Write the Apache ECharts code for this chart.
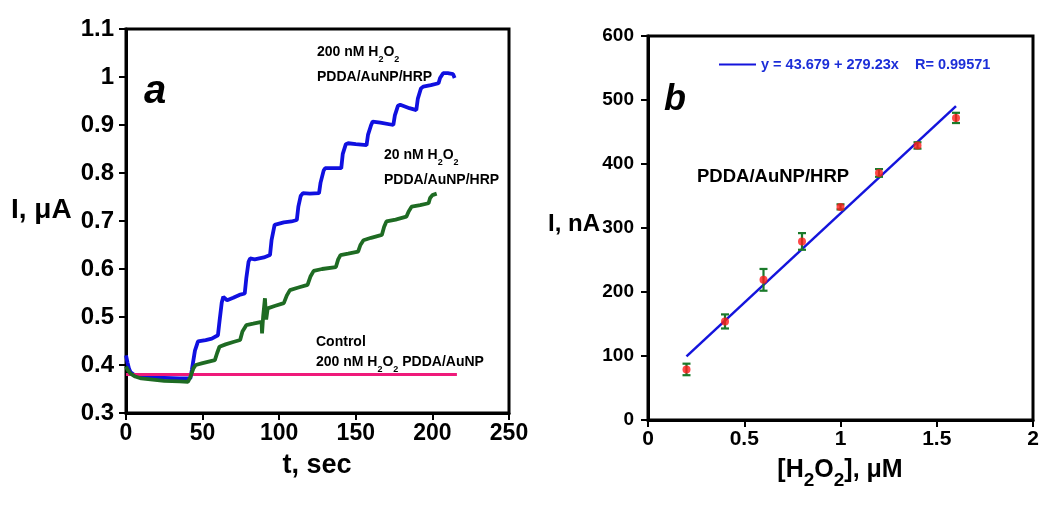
<!DOCTYPE html>
<html><head><meta charset="utf-8">
<script src="https://cdn.jsdelivr.net/npm/echarts@6/dist/echarts.min.js"></script>
<style>html,body{margin:0;padding:0;background:#fff}#c{width:1050px;height:507px}</style>
</head><body><div id="c"></div>
<script>
// ---------- Panel a : amperometric responses (t in s, I in µA) ----------
var blueCurve = [[0,0.42],[1,0.405],[2,0.392],[3,0.385],[5,0.38],[8,0.377],[15,0.374],[25,0.373],[35,0.372],[42,0.372],
 [43,0.39],[45,0.43],[47,0.449],[52,0.452],[56,0.455],[60,0.462],
 [61,0.49],[62.5,0.53],[63.5,0.542],[66,0.535],[70,0.54],[74,0.546],[77.5,0.549],
 [78.5,0.58],[80,0.615],[81,0.622],[84,0.62],[90,0.624],[94,0.629],
 [95,0.66],[97,0.692],[98,0.695],[103,0.697],[108,0.699],[111.5,0.702],
 [112.5,0.73],[114,0.752],[115.5,0.758],[120,0.757],[126,0.758],
 [127,0.78],[129,0.805],[130,0.81],[135,0.81],[140.5,0.81],
 [141.5,0.84],[143.5,0.86],[145,0.862],[150,0.86],[157,0.858],
 [158,0.88],[160,0.9],[161,0.907],[166,0.905],[174.5,0.9],
 [175.5,0.92],[177.5,0.94],[179,0.942],[185,0.935],[189.5,0.931],
 [190.5,0.955],[192.5,0.976],[194,0.98],[199,0.983],[204,0.987],
 [205,0.998],[207,1.008],[210,1.008],[213.5,1.006],[214.5,0.998]];
var greenCurve = [[0,0.397],[1,0.39],[3,0.382],[6,0.376],[10,0.372],[16,0.37],[25,0.367],[35,0.366],[40.5,0.365],
 [42,0.375],[44,0.393],[45.5,0.4],[50,0.404],[54,0.407],[58,0.41],
 [59.5,0.425],[61,0.438],[65,0.443],[70,0.448],[74.5,0.452],
 [76,0.47],[78.5,0.483],[83,0.486],[88.5,0.49],[88.8,0.466],[89.5,0.5],[90.7,0.539],[91.5,0.495],[92.5,0.518],[97,0.523],[103,0.529],
 [105,0.545],[107,0.556],[112,0.561],[118.5,0.567],
 [120.5,0.585],[122.5,0.596],[128,0.6],[137,0.604],
 [138.5,0.62],[140,0.629],[145,0.632],[151.5,0.636],
 [153,0.65],[155,0.66],[160,0.665],[167,0.671],
 [168.5,0.688],[170,0.699],[176,0.703],[183,0.709],
 [184.5,0.72],[186.5,0.73],[192,0.733],[197.5,0.737],
 [198.5,0.748],[200,0.754],[202.8,0.757]];
var controlCurve = [[0,0.38],[216,0.38]];

// ---------- Panel b : calibration ----------
var concentration = [0.2,0.4,0.6,0.8,1.0,1.2,1.4,1.6];   // µM
var currentNA     = [79,154,219,279,333,386,429,472];    // nA
var errorNA       = [9,11,17,13,4,6,5,8];                // nA
var fitLine       = [[0.2,99.5],[1.6,490.4]];
var fitLabel      = 'y = 43.679 + 279.23x    R= 0.99571';

var FONT = "'Liberation Sans', Arial, sans-serif";
var pointData = concentration.map(function(x,i){return [x,currentNA[i]];});
var errData = concentration.map(function(x,i){return [x,currentNA[i],errorNA[i]];});

function axisCommon(fs, margin){
  return {
    axisLine:{show:true,onZero:false,lineStyle:{color:'#000',width:3}},
    axisTick:{show:true,inside:false,length:7,lineStyle:{color:'#000',width:2}},
    splitLine:{show:false},
    axisLabel:{color:'#000',fontFamily:FONT,fontWeight:'bold',fontSize:fs,margin:margin}
  };
}
function merge(a,b){for(var k in b)a[k]=b[k];return a;}
var subRich = {n:{fontSize:14,fontWeight:'bold',fontFamily:FONT,lineHeight:24,fill:'#000'},
               s:{fontSize:9,fontWeight:'bold',fontFamily:FONT,lineHeight:4,verticalAlign:'bottom',fill:'#000'}};

var chart = echarts.init(document.getElementById('c'));
var option = {
  animation:false,
  backgroundColor:'#fff',
  grid:[
    {left:126,top:29,width:383,height:384,show:true,borderColor:'#000',borderWidth:3,backgroundColor:'transparent'},
    {left:648,top:36,width:385,height:384,show:true,borderColor:'#000',borderWidth:3,backgroundColor:'transparent'}
  ],
  xAxis:[
    merge({gridIndex:0,type:'value',min:0,max:250,interval:50},axisCommon(23,9)),
    merge({gridIndex:1,type:'value',min:0,max:2,interval:0.5},axisCommon(21,9))
  ],
  yAxis:[
    merge({gridIndex:0,type:'value',min:0.3,max:1.1,interval:0.1},axisCommon(24,12)),
    merge({gridIndex:1,type:'value',min:0,max:600,interval:100},axisCommon(19,14))
  ],
  legend:{
    data:[{name:fitLabel,icon:'rect'}],
    left:714,top:52,itemWidth:37,itemHeight:2,itemGap:4,
    textStyle:{color:'#1c2ed8',fontFamily:FONT,fontWeight:'bold',fontSize:14.5},
    selectedMode:false
  },
  series:[
    {type:'line',xAxisIndex:0,yAxisIndex:0,data:blueCurve,showSymbol:false,lineStyle:{color:'#1010e0',width:3.8},z:2},
    {type:'line',xAxisIndex:0,yAxisIndex:0,data:controlCurve,showSymbol:false,lineStyle:{color:'#ef1a7a',width:3},z:3},
    {type:'line',xAxisIndex:0,yAxisIndex:0,data:greenCurve,showSymbol:false,lineStyle:{color:'#1e6b23',width:3.8},z:4},
    {name:fitLabel,type:'line',xAxisIndex:1,yAxisIndex:1,data:fitLine,showSymbol:false,color:'#1414dc',lineStyle:{color:'#1414dc',width:2.5},z:2},
    {type:'custom',xAxisIndex:1,yAxisIndex:1,data:errData,z:3,
      renderItem:function(params,api){
        var x=api.value(0), y=api.value(1), e=api.value(2);
        var top=api.coord([x,y+e]), bot=api.coord([x,y-e]);
        var w=4, st={stroke:'#1a7a2a',lineWidth:2.2};
        return {type:'group',children:[
          {type:'line',shape:{x1:top[0],y1:top[1],x2:bot[0],y2:bot[1]},style:st},
          {type:'line',shape:{x1:top[0]-w,y1:top[1],x2:top[0]+w,y2:top[1]},style:st},
          {type:'line',shape:{x1:bot[0]-w,y1:bot[1],x2:bot[0]+w,y2:bot[1]},style:st}
        ]};
      }},
    {type:'scatter',xAxisIndex:1,yAxisIndex:1,data:pointData,symbolSize:8,itemStyle:{color:'#ff1a1a'},z:4}
  ],
  graphic:[
    {type:'text',x:144,y:72,style:{text:'a',font:'italic bold 40px '+FONT,fill:'#000',verticalAlign:'alphabetic'}},
    {type:'text',x:664,y:82,style:{text:'b',font:'italic bold 36px '+FONT,fill:'#000',verticalAlign:'alphabetic'}},
    {type:'text',x:317,y:52,style:{text:'{n|200 nM H}{s|2}{n|O}{s|2}',verticalAlign:'middle',rich:subRich}},
    {type:'text',x:317,y:77,style:{text:'PDDA/AuNP/HRP',font:'bold 14px '+FONT,fill:'#000',verticalAlign:'middle'}},
    {type:'text',x:384,y:155,style:{text:'{n|20 nM H}{s|2}{n|O}{s|2}',verticalAlign:'middle',rich:subRich}},
    {type:'text',x:384,y:180,style:{text:'PDDA/AuNP/HRP',font:'bold 14px '+FONT,fill:'#000',verticalAlign:'middle'}},
    {type:'text',x:316,y:342,style:{text:'Control',font:'bold 14px '+FONT,fill:'#000',verticalAlign:'middle'}},
    {type:'text',x:316,y:362,style:{text:'{n|200 nM H}{s|2}{n|O}{s|2}{n| PDDA/AuNP}',verticalAlign:'middle',rich:subRich}},
    {type:'text',x:697,y:177,style:{text:'PDDA/AuNP/HRP',font:'bold 18.5px '+FONT,fill:'#000',verticalAlign:'middle'}},
    {type:'text',x:11,y:210,style:{text:'I, \u03bcA',font:'bold 28px '+FONT,fill:'#000',verticalAlign:'middle'}},
    {type:'text',x:317,y:466,style:{text:'t, sec',font:'bold 27px '+FONT,fill:'#000',align:'center',verticalAlign:'middle'}},
    {type:'text',x:548,y:224,style:{text:'I, nA',font:'bold 24px '+FONT,fill:'#000',verticalAlign:'middle'}},
    {type:'text',x:840,y:470,style:{text:'{n|[H}{s|2}{n|O}{s|2}{n|], \u03bcM}',align:'center',verticalAlign:'middle',
      rich:{n:{fontSize:25,fontWeight:'bold',fontFamily:FONT,lineHeight:40,fill:'#000'},s:{fontSize:19,fontWeight:'bold',fontFamily:FONT,lineHeight:11,verticalAlign:'bottom',fill:'#000'}}}}
  ]
};
chart.setOption(option);
</script></body></html>
